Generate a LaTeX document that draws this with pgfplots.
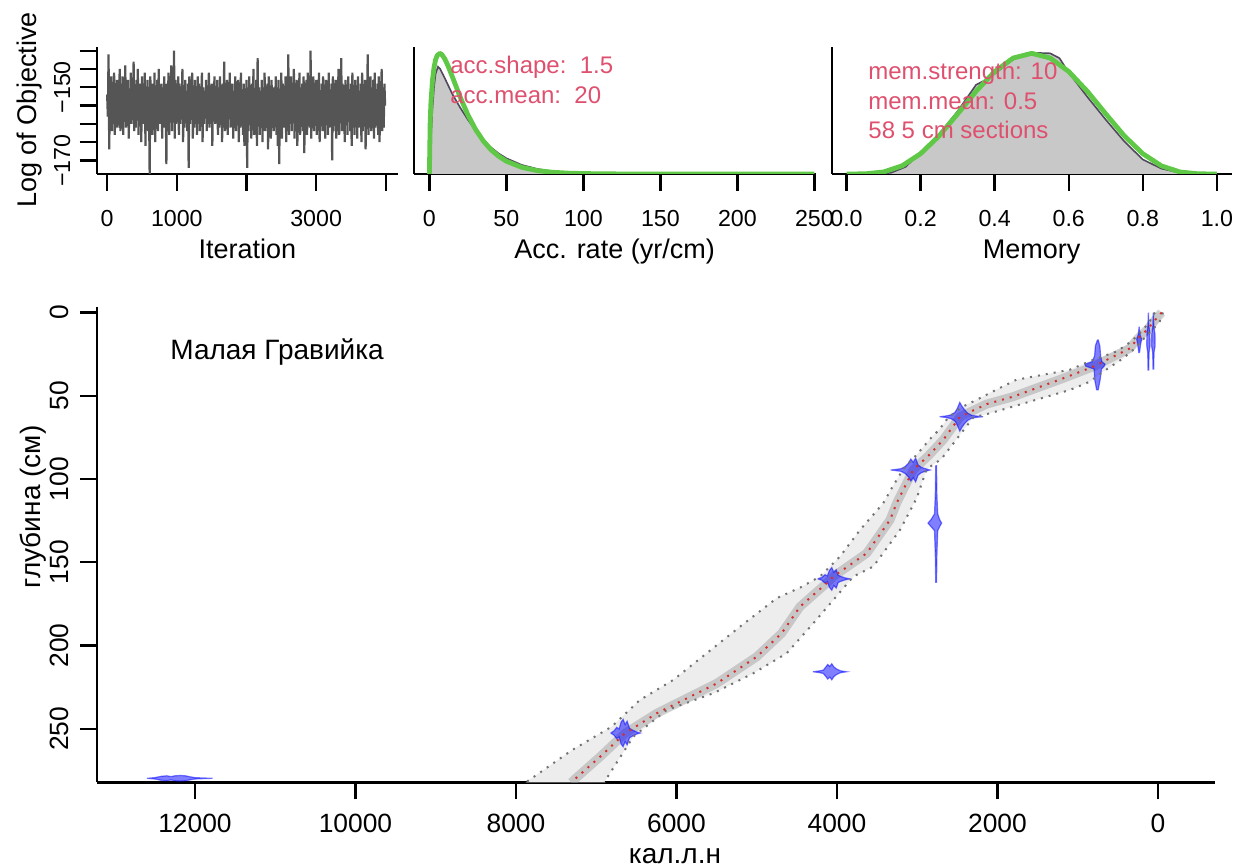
\documentclass[border=0pt]{standalone}
\usepackage{fontspec}
\setmainfont{Liberation Sans}
\usepackage{pgfplots}
\pgfplotsset{compat=1.18}

\definecolor{trace}{RGB}{85,85,85}
\definecolor{prior}{RGB}{95,200,70}
\definecolor{post}{RGB}{200,200,200}
\definecolor{postline}{RGB}{80,72,92}
\definecolor{note}{RGB}{222,80,110}
\definecolor{meanred}{RGB}{215,45,45}

\pgfplotsset{
  baconax/.style={
    scale only axis, anchor=south west,
    axis x line*=bottom, axis y line*=left,
    axis line style={line width=1.2pt,-},
    every tick/.style={line width=1.2pt,black},
    tick align=outside,
    major tick length=8.5pt,
    scaled ticks=false,
    xticklabel style={anchor=base},
    yticklabel style={rotate=90,anchor=base},
    /pgf/number format/assume math mode=true,
  },
  smallax/.style={
    baconax,
    width=150.65pt, height=63.65pt,
    ticklabel style={font=\fontsize{11.6}{12}\selectfont},
    xticklabel shift=17.8pt, yticklabel shift=4.8pt,
  },
  date/.style={fill=blue, fill opacity=0.5, draw=blue, draw opacity=0.5, line width=0.6pt},
  bound/.style={black!55, line width=1pt, dash pattern=on 1pt off 3pt},
}

\begin{document}
\begin{tikzpicture}
\path[use as bounding box] (0,0) rectangle (619pt,434pt);

% ---- trace of log objective
\begin{axis}[smallax, at={(48.35pt,347pt)},
    xmin=-150, xmax=4175, ymin=-173.7, ymax=-138.9,
    xtick={0,1000,2000,3000,4000}, xticklabels={0,1000,,3000,},
    ytick={-170,-165,-160,-155,-150,-145,-140},
    yticklabels={−170,,,,−150,,}]
\addplot[trace, line width=1.1pt] table[row sep=\\, x expr=\coordindex*10, y index=0] {
y\\
-152\\-158\\-141\\-167\\-149\\-160\\-147\\-162\\-151\\-157\\-146\\-163\\-150\\-159\\-148\\-161\\-153\\-156\\-145\\-162\\
-149\\-160\\-147\\-163\\-152\\-158\\-144\\-161\\-150\\-157\\-148\\-164\\-151\\-159\\-146\\-160\\-154\\-156\\-143\\-162\\
-150\\-161\\-148\\-158\\-145\\-163\\-152\\-157\\-149\\-165\\-147\\-160\\-151\\-158\\-146\\-166\\-150\\-159\\-148\\-162\\
-152\\-174\\-147\\-160\\-149\\-163\\-150\\-158\\-146\\-165\\-151\\-159\\-148\\-162\\-145\\-160\\-153\\-157\\-149\\-164\\
-150\\-161\\-147\\-159\\-152\\-171\\-149\\-160\\-146\\-163\\-151\\-158\\-144\\-162\\-150\\-157\\-140\\-164\\-148\\-160\\
-151\\-159\\-147\\-163\\-149\\-160\\-152\\-158\\-145\\-165\\-150\\-161\\-148\\-157\\-153\\-162\\-149\\-172\\-147\\-160\\
-152\\-158\\-146\\-164\\-150\\-161\\-148\\-159\\-151\\-163\\-147\\-157\\-149\\-162\\-153\\-158\\-146\\-165\\-150\\-160\\
-154\\-157\\-148\\-162\\-151\\-159\\-146\\-161\\-152\\-156\\-149\\-166\\-150\\-158\\-147\\-160\\-153\\-157\\-148\\-163\\
-150\\-161\\-147\\-159\\-152\\-165\\-149\\-160\\-143\\-162\\-151\\-158\\-148\\-163\\-150\\-157\\-146\\-161\\-152\\-159\\
-149\\-164\\-151\\-160\\-147\\-162\\-153\\-158\\-148\\-165\\-150\\-161\\-146\\-159\\-152\\-163\\-149\\-166\\-151\\-160\\
-148\\-172\\-150\\-162\\-147\\-160\\-152\\-164\\-149\\-159\\-145\\-163\\-151\\-161\\-148\\-166\\-142\\-160\\-150\\-163\\
-151\\-161\\-148\\-165\\-150\\-159\\-146\\-162\\-152\\-160\\-149\\-167\\-147\\-161\\-151\\-164\\-148\\-159\\-150\\-162\\
-152\\-160\\-147\\-163\\-150\\-166\\-148\\-171\\-151\\-160\\-146\\-164\\-149\\-161\\-153\\-159\\-147\\-165\\-150\\-162\\
-141\\-163\\-149\\-160\\-147\\-162\\-151\\-158\\-145\\-164\\-150\\-161\\-148\\-166\\-152\\-159\\-146\\-163\\-150\\-160\\
-149\\-162\\-147\\-168\\-151\\-160\\-148\\-163\\-146\\-159\\-152\\-161\\-140\\-164\\-149\\-160\\-147\\-162\\-151\\-158\\
-148\\-163\\-150\\-160\\-146\\-165\\-152\\-159\\-149\\-162\\-147\\-160\\-151\\-164\\-148\\-158\\-150\\-163\\-146\\-161\\
-152\\-160\\-149\\-170\\-147\\-162\\-150\\-159\\-148\\-164\\-151\\-161\\-145\\-163\\-150\\-158\\-142\\-162\\-149\\-160\\
-151\\-165\\-148\\-160\\-150\\-163\\-147\\-159\\-152\\-162\\-149\\-166\\-146\\-160\\-151\\-163\\-148\\-158\\-150\\-164\\
-147\\-161\\-152\\-159\\-149\\-165\\-146\\-162\\-150\\-160\\-148\\-167\\-151\\-159\\-141\\-163\\-149\\-161\\-147\\-162\\
-150\\-160\\-148\\-164\\-146\\-161\\-151\\-159\\-149\\-163\\-147\\-165\\-152\\-160\\-145\\-162\\-150\\-161\\-149\\-155\\
};
\end{axis}

% ---- accumulation rate prior / posterior
\begin{axis}[smallax, at={(207pt,347pt)}, width=200.95pt,
    xmin=-10, xmax=251, ymin=0, ymax=1.055,
    xtick={0,50,100,150,200,250}, ytick=\empty]
\addplot[fill=post, draw=postline, line width=0.8pt] coordinates {
  (0,0) (1,0.30) (2,0.55) (3,0.72) (4,0.83) (5.6,0.889) (7,0.87) (9,0.82)
  (12,0.74) (15,0.66) (20,0.55) (25,0.45) (30,0.36) (35,0.285) (40,0.22)
  (45,0.17) (50,0.13) (60,0.075) (70,0.042) (80,0.022) (90,0.011)
  (100,0.005) (120,0.001) (140,0) (250,0)};
\addplot[prior, line width=2.4pt, line join=round] coordinates {
  (0,0) (0.5,0.435) (1,0.593) (2,0.777) (3,0.883) (4,0.946) (5,0.981)
  (6.67,1) (8,0.991) (10,0.954) (12,0.899) (15,0.803) (20,0.637) (25,0.490)
  (30,0.369) (35,0.274) (40,0.201) (45,0.147) (50,0.106) (60,0.055)
  (70,0.028) (80,0.0142) (90,0.0071) (100,0.0035) (120,0.0008) (150,0.0001)
  (250,0)};
\end{axis}

% ---- memory prior / posterior
\begin{axis}[smallax, at={(415.85pt,347pt)}, width=200pt,
    xmin=-0.04, xmax=1.04, ymin=0, ymax=1.055,
    xtick={0,0.2,0.4,0.6,0.8,1}, xticklabels={0.0,0.2,0.4,0.6,0.8,1.0},
    ytick=\empty]
\addplot[fill=post, draw=postline, line width=0.8pt] coordinates {
  (0.08,0) (0.12,0.01) (0.16,0.06) (0.2,0.18) (0.25,0.33) (0.3,0.52)
  (0.35,0.74) (0.37,0.77) (0.4,0.83) (0.45,0.95) (0.5,1.005) (0.55,1.0)
  (0.575,0.96) (0.6,0.84) (0.65,0.64) (0.7,0.45) (0.75,0.27) (0.8,0.12)
  (0.85,0.045) (0.9,0.01) (0.95,0)};
\addplot[prior, line width=2.4pt, line join=round] coordinates {
  (0,0) (0.05,0.0013) (0.1,0.0168) (0.15,0.0677) (0.2,0.168) (0.25,0.316)
  (0.3,0.498) (0.35,0.686) (0.4,0.849) (0.45,0.961) (0.5,1) (0.55,0.961)
  (0.6,0.849) (0.65,0.686) (0.7,0.498) (0.75,0.316) (0.8,0.168)
  (0.85,0.0677) (0.9,0.0168) (0.95,0.0013) (1,0)};
\end{axis}

% ---- age-depth model
\begin{axis}[baconax, at={(48.5pt,42.85pt)}, width=559pt, height=237.8pt,
    x dir=reverse, y dir=reverse,
    xmin=-710, xmax=13221, ymin=-3.5, ymax=282.2,
    ticklabel style={font=\fontsize{13.2}{14}\selectfont},
    xticklabel shift=16.5pt, yticklabel shift=5.8pt,
    xtick={0,2000,4000,6000,8000,10000,12000},
    xticklabels={0,2000,4000,6000,8000,10000,12000},
    ytick={0,50,100,150,200,250}]
% 95% envelope (shaded)
\addplot[fill=black!7, draw=none] coordinates {
  (40,0) (100,5) (180,10) (280,15) (380,19) (515,23.4) (806,28.4) (1100,34.4)
  (1433,37.4) (1765,40.4) (2000,46) (2218,51.4) (2450,57) (2613,63) (2720,70)
  (2841,76) (3000,85) (3174,94) (3300,104) (3423,114.5) (3713,130.6)
  (3963,146.6) (4212,158.6) (4450,165) (4751,171.6) (5209,188.7) (5624,204.7)
  (6040,220.7) (6455,232.7) (6808,248.8) (7306,263) (7804,279.8) (7880,282.3)
  (6900,282.3) (6870,279.8) (6538,254.8) (6122,238.8) (5541,228.7)
  (5043,216.7) (4627,204.7) (4295,186.7) (4046,172.7) (3797,158.6)
  (3548,152.6) (3215,130.6) (3007,111.5) (2882,94) (2700,88) (2508,76)
  (2302,63) (2093,60.5) (1595,53.5) (1097,46.5) (847,41.5) (682,35.5)
  (432,27.4) (300,22) (183,16) (60,10) (-25,5) (-62,0)};
% darker core of the model
\addplot[black!40, line width=4.5pt, opacity=0.45, line join=round] coordinates {
  (-45,0) (0,2.4) (130,10) (265,16.3) (349,21.5) (600,27.5) (806,32.5)
  (1180,39.5) (1577,46.5) (1803,50.5) (2135,55) (2467,62.6) (2675,76.4)
  (2860,86) (3049,94.5) (3256,114.4) (3340,124.6) (3630,144.6) (4046,158.6)
  (4108,161.7) (4461,176.7) (4690,192.7) (5001,206.8) (5499,222.8)
  (6247,240.8) (6642,252.8) (6953,266.9) (7244,279.3) (7310,282.3)};

% calibrated dates
\addplot[date] coordinates {
  (12600,279.8) (12500,279.4) (12420,278.6) (12350,278.3) (12300,278.8)
  (12250,278.3) (12180,278.1) (12120,278.3) (12060,278.9) (12000,279.4)
  (11900,279.6) (11780,279.8) (11900,280.0) (12000,280.2) (12060,280.7)
  (12120,281.3) (12180,281.5) (12250,281.3) (12300,280.8) (12350,281.3)
  (12420,281.0) (12500,280.2) (12600,279.8)};
\addplot[date] coordinates {
  (6820,252.6) (6780,251.4) (6745,249.2) (6715,250.2) (6690,246.0)
  (6665,244.4) (6640,247.5) (6615,245.5) (6585,249.8) (6545,250.9)
  (6500,251.9) (6450,252.6) (6500,253.3) (6545,254.3) (6585,255.4)
  (6615,259.7) (6640,257.7) (6665,260.8) (6690,259.2) (6715,255.0)
  (6745,256.0) (6780,253.8) (6820,252.6)};
\addplot[date] coordinates {
  (4240,160) (4190,159.2) (4150,157.5) (4120,158.2) (4095,155.0) (4065,153.2)
  (4040,156.0) (4010,154.5) (3985,157.8) (3950,158.6) (3900,159.4) (3840,160)
  (3900,160.6) (3950,161.4) (3985,162.2) (4010,165.5) (4040,164.0)
  (4065,166.8) (4095,165.0) (4120,161.8) (4150,162.5) (4190,160.8) (4240,160)};
\addplot[date] coordinates {
  (4300,215.8) (4220,215.3) (4170,214.8) (4140,213.0) (4115,211.4)
  (4090,212.6) (4065,211.0) (4040,212.8) (4010,214.0) (3960,215.2)
  (3880,215.8) (3960,216.4) (4010,217.6) (4040,218.8) (4065,220.6)
  (4090,219.0) (4115,220.2) (4140,218.6) (4170,216.8) (4220,216.3) (4300,215.8)};
\addplot[date] coordinates {
  (3330,94.6) (3260,94.2) (3200,93.8) (3150,92.5) (3110,90.5) (3080,88.0)
  (3050,90.0) (3020,87.5) (2990,91.5) (2950,93.0) (2900,93.8) (2840,94.6)
  (2900,95.4) (2950,96.2) (2990,97.7) (3020,101.7) (3050,99.2) (3080,101.2)
  (3110,98.7) (3150,96.7) (3200,95.4) (3260,95.0) (3330,94.6)};
\addplot[date] coordinates {
  (2770,92) (2775,110) (2785,121) (2830,124.5) (2866,126.5) (2830,128.5)
  (2785,131) (2775,145) (2770,162) (2760,162) (2755,145) (2745,131)
  (2720,128.5) (2696,126.5) (2720,124.5) (2745,121) (2755,110) (2760,92)
  (2770,92)};
\addplot[date] coordinates {
  (2720,62.6) (2650,62.2) (2580,61.5) (2530,60.0) (2500,57.5) (2470,54.0)
  (2440,56.5) (2410,58.5) (2370,60.5) (2320,61.8) (2250,62.3) (2180,62.6)
  (2250,62.9) (2320,63.4) (2370,64.7) (2410,66.7) (2440,68.7) (2470,71.2)
  (2500,67.7) (2530,65.2) (2580,63.7) (2650,63.0) (2720,62.6)};
\addplot[date] coordinates {
  (755,16.5) (780,20) (790,26) (820,29.5) (910,31.0) (900,32.2) (795,34)
  (790,40) (765,46.4) (745,46.4) (720,40) (705,34) (670,32.2) (660,31.0)
  (700,29.5) (715,26) (725,20) (745,16.5) (755,16.5)};
\addplot[date] coordinates {
  (120,0) (126,8) (138,12) (140,20) (128,24) (124,34.5) (116,34.5) (112,24)
  (100,20) (102,12) (114,8) (120,0)};
\addplot[date] coordinates {
  (58,0) (64,8) (78,13) (80,20) (66,24) (62,34) (54,34) (50,24) (36,20)
  (38,13) (52,8) (58,0)};
\addplot[date] coordinates {
  (235,8.5) (245,13) (265,16) (250,20) (240,24) (230,24) (220,20) (205,16)
  (225,13) (235,8.5)};

% 95% bounds and mean
\addplot[bound] coordinates {
  (40,0) (100,5) (180,10) (280,15) (380,19) (515,23.4) (806,28.4) (1100,34.4)
  (1433,37.4) (1765,40.4) (2000,46) (2218,51.4) (2450,57) (2613,63) (2720,70)
  (2841,76) (3000,85) (3174,94) (3300,104) (3423,114.5) (3713,130.6)
  (3963,146.6) (4212,158.6) (4450,165) (4751,171.6) (5209,188.7) (5624,204.7)
  (6040,220.7) (6455,232.7) (6808,248.8) (7306,263) (7804,279.8) (7880,282.3)};
\addplot[bound] coordinates {
  (-62,0) (-25,5) (60,10) (183,16) (300,22) (432,27.4) (682,35.5) (847,41.5)
  (1097,46.5) (1595,53.5) (2093,60.5) (2302,63) (2508,76) (2700,88) (2882,94)
  (3007,111.5) (3215,130.6) (3548,152.6) (3797,158.6) (4046,172.7)
  (4295,186.7) (4627,204.7) (5043,216.7) (5541,228.7) (6122,238.8)
  (6538,254.8) (6870,279.8) (6900,282.3)};
\addplot[bound, meanred] coordinates {
  (-45,0) (0,2.4) (130,10) (265,16.3) (349,21.5) (600,27.5) (806,32.5)
  (1180,39.5) (1577,46.5) (1803,50.5) (2135,55) (2467,62.6) (2675,76.4)
  (2860,86) (3049,94.5) (3256,114.4) (3340,124.6) (3630,144.6) (4046,158.6)
  (4108,161.7) (4461,176.7) (4690,192.7) (5001,206.8) (5499,222.8)
  (6247,240.8) (6642,252.8) (6953,266.9) (7244,279.3) (7310,282.3)};
\end{axis}

% ---- texts
\begin{scope}[every node/.style={inner sep=0pt}]
\node[font=\fontsize{12}{13}\selectfont, text=note, anchor=base west] at (225pt,397pt) {acc.shape:\ \ 1.5};
\node[font=\fontsize{12}{13}\selectfont, text=note, anchor=base west] at (225pt,382.35pt) {acc.mean:\ \ 20};
\node[font=\fontsize{12}{13}\selectfont, text=note, anchor=base west] at (434pt,394.35pt) {mem.strength: 10};
\node[font=\fontsize{12}{13}\selectfont, text=note, anchor=base west] at (434pt,379.35pt) {mem.mean: 0.5};
\node[font=\fontsize{12}{13}\selectfont, text=note, anchor=base west] at (434pt,364.85pt) {58 5 cm sections};
\node[font=\fontsize{13.5}{15}\selectfont, anchor=base] at (123.7pt,304.85pt) {Iteration};
\node[font=\fontsize{13.5}{15}\selectfont, anchor=base] at (307.25pt,304.85pt) {Acc. rate (yr/cm)};
\node[font=\fontsize{13.5}{15}\selectfont, anchor=base] at (515.85pt,304.85pt) {Memory};
\node[font=\fontsize{13.5}{15}\selectfont, anchor=base, rotate=90] at (18.3pt,379pt) {Log of Objective};
\node[font=\fontsize{14}{15}\selectfont, anchor=base] at (337.5pt,2.2pt) {кал.л.н};
\node[font=\fontsize{14}{15}\selectfont, anchor=base, rotate=90] at (20pt,180.5pt) {глубина (см)};
\node[font=\fontsize{14}{15}\selectfont, anchor=base west] at (85pt,254pt) {Малая Гравийка};
\end{scope}
\end{tikzpicture}
\end{document}
